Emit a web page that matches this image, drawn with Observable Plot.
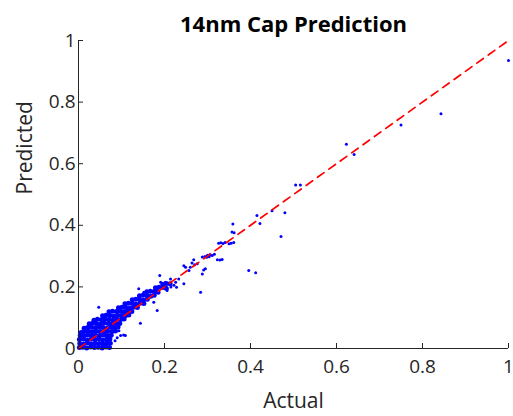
<!DOCTYPE html>
<html><head><meta charset="utf-8">
<script src="https://cdn.jsdelivr.net/npm/d3@7"></script>
<script src="https://cdn.jsdelivr.net/npm/@observablehq/plot@0.6"></script>
<style>body{margin:0;background:#fff}</style>
</head><body><div id="chart"></div>
<script>
const titleText = "14nm Cap Prediction";
const xLabel = "Actual";
const yLabel = "Predicted";
const xTicks = [0, 0.2, 0.4, 0.6, 0.8, 1];
const yTicks = [0, 0.2, 0.4, 0.6, 0.8, 1];
const refLine = [[0, 0], [1, 1]];

// dense cloud of predictions near the origin
const densePoints = [
[0.002,0.003],[0.01,0.004],[0.019,0.002],[0.028,0.005],[0.037,0.003],[0.046,0.004],[0.055,0.002],[0.064,0.005],[0.072,0.003],
[0.003,0.016],[0.012,0.015],[0.021,0.018],[0.03,0.014],[0.039,0.017],[0.048,0.016],[0.057,0.015],[0.066,0.018],[0.074,0.017],
[0.002,0.029],[0.011,0.031],[0.02,0.028],[0.029,0.03],[0.038,0.029],[0.047,0.032],[0.056,0.028],[0.065,0.03],[0.073,0.031],
[0.004,0.042],[0.013,0.041],[0.022,0.044],[0.031,0.042],[0.04,0.043],[0.049,0.041],[0.058,0.044],[0.067,0.042],[0.076,0.043],
[0.006,0.052],[0.014,0.055],[0.023,0.056],[0.032,0.054],[0.041,0.057],[0.05,0.055],[0.059,0.053],[0.068,0.056],[0.078,0.055],[0.086,0.057],
[0.013,0.066],[0.021,0.068],[0.03,0.069],[0.039,0.067],[0.048,0.07],[0.057,0.068],[0.066,0.066],[0.075,0.069],[0.084,0.068],[0.092,0.07],
[0.025,0.08],[0.033,0.082],[0.042,0.081],[0.051,0.079],[0.06,0.083],[0.069,0.081],[0.078,0.08],[0.087,0.082],[0.096,0.081],
[0.036,0.092],[0.044,0.095],[0.053,0.093],[0.062,0.096],[0.071,0.094],[0.08,0.092],[0.089,0.095],[0.098,0.094],[0.106,0.096],
[0.056,0.106],[0.064,0.108],[0.073,0.107],[0.082,0.105],[0.091,0.108],[0.1,0.107],[0.109,0.106],[0.117,0.109],
[0.071,0.119],[0.079,0.121],[0.088,0.12],[0.097,0.122],[0.106,0.119],[0.115,0.121],[0.124,0.12],
[0.093,0.132],[0.101,0.134],[0.11,0.133],[0.119,0.131],[0.128,0.134],[0.137,0.133],
[0.108,0.145],[0.116,0.147],[0.125,0.146],[0.134,0.144],[0.143,0.147],[0.152,0.146],
[0.125,0.158],[0.133,0.16],[0.142,0.159],[0.151,0.157],[0.16,0.16],
[0.142,0.171],[0.15,0.173],[0.159,0.172],[0.168,0.17],[0.176,0.173],
[0.159,0.184],[0.167,0.186],[0.176,0.185],[0.185,0.183],
[0.179,0.197],[0.187,0.199],[0.196,0.198],[0.204,0.196],
[0.196,0.209],[0.204,0.211],[0.213,0.21]
];

// sparser individual predictions
const sparsePoints = [
[1.0,0.935],[0.843,0.762],[0.75,0.726],[0.623,0.663],[0.641,0.63],[0.505,0.531],[0.516,0.531],
[0.48,0.441],[0.45,0.447],[0.471,0.364],[0.415,0.432],[0.422,0.406],[0.359,0.404],[0.357,0.378],
[0.362,0.376],[0.361,0.344],[0.355,0.342],[0.396,0.253],[0.412,0.246],
[0.326,0.342],[0.331,0.343],[0.336,0.341],[0.341,0.344],[0.35,0.34],
[0.323,0.288],[0.329,0.287],[0.334,0.289],
[0.288,0.297],[0.294,0.299],[0.3,0.303],[0.306,0.305],[0.311,0.302],[0.316,0.306],[0.298,0.296],[0.304,0.298],
[0.295,0.259],[0.288,0.242],[0.291,0.255],
[0.268,0.288],[0.264,0.278],[0.27,0.272],[0.276,0.275],[0.26,0.264],[0.257,0.253],[0.249,0.264],[0.245,0.269],
[0.284,0.183],
[0.189,0.237],[0.191,0.215],[0.202,0.215],[0.214,0.226],[0.226,0.215],[0.233,0.226],[0.245,0.21],
[0.183,0.19],[0.195,0.198],[0.206,0.194],[0.215,0.2],[0.222,0.205],[0.228,0.199],[0.206,0.21],
[0.14,0.194],[0.152,0.172],[0.183,0.123],[0.175,0.15],[0.206,0.188],[0.152,0.183],
[0.047,0.134],[0.14,0.167],[0.144,0.082],[0.098,0.042],[0.094,0.058],[0.109,0.042],[0.105,0.044],
[0.085,0.025],[0.09,0.035]
];

const ink = "#262626";
const chart = Plot.plot({
  width: 513, height: 416,
  marginLeft: 78, marginRight: 5, marginTop: 40, marginBottom: 68,
  x: {domain: [0, 1]},
  y: {domain: [0, 1]},
  style: {fontFamily: "'Open Sans', sans-serif", color: ink, background: "white", overflow: "visible"},
  marks: [
    Plot.dot(densePoints, {x: d => d[0], y: d => d[1], r: 2.5, fill: "#0000ff", stroke: null}),
    Plot.dot(sparsePoints, {x: d => d[0], y: d => d[1], r: 1.5, fill: "#0000ff", stroke: null}),
    Plot.line(refLine, {x: d => d[0], y: d => d[1], stroke: "#ff0000", strokeWidth: 1.7, strokeDasharray: "8,6"}),
    Plot.ruleY([0], {stroke: ink}),
    Plot.ruleX([0], {stroke: ink}),
    Plot.axisX(xTicks, {tickSize: -5, tickPadding: 16, fontSize: 19, tickFormat: d => String(d), label: null, stroke: ink, fill: ink}),
    Plot.axisY(yTicks, {tickSize: -5, tickPadding: 8, fontSize: 19, tickFormat: d => String(d), label: null, stroke: ink, fill: ink}),
    Plot.text([xLabel], {frameAnchor: "bottom", dy: 59, fontSize: 21, fill: ink}),
    Plot.text([yLabel], {frameAnchor: "left", dx: -53, rotate: -90, fontSize: 21, fill: ink}),
    Plot.text([titleText], {frameAnchor: "top", dy: -24, fontSize: 22, fontWeight: "bold", fill: "#000"})
  ]
});
document.getElementById("chart").appendChild(chart);
</script>
</body></html>
